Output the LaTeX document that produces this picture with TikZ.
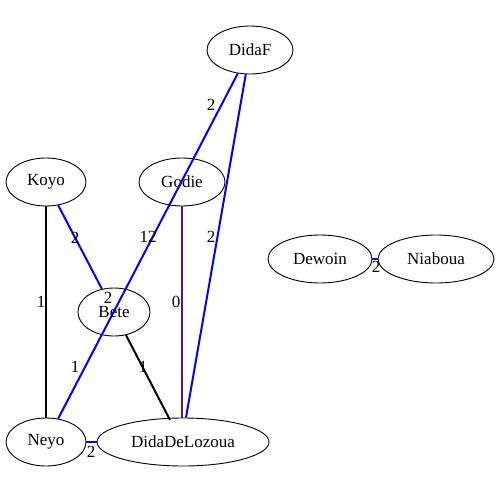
\documentclass[tikz,border=0pt]{standalone}
\usepackage{fontspec}
\setmainfont{Liberation Serif}
\usetikzlibrary{shapes.geometric}
\definecolor{edgeblue}{RGB}{0,0,255}
\definecolor{edgepurple}{RGB}{85,20,140}
\begin{document}
\begin{tikzpicture}[x=1pt,y=-1pt,
  gnode/.style={draw=black,ellipse,line width=0.9pt,inner sep=0pt,font=\fontsize{17}{17}\selectfont},
  elabel/.style={font=\fontsize{17}{17}\selectfont,inner sep=0pt},
  bl/.style={draw=edgeblue,line width=2pt},
  bk/.style={draw=black,line width=2pt},
  pu/.style={draw=edgepurple,line width=2pt}]
\useasboundingbox[fill=white] (0,0) rectangle (495,495);
\node[gnode,minimum width=86pt,minimum height=48pt] (DidaF) at (250,50) {DidaF};
\node[gnode,minimum width=80pt,minimum height=48pt] (Koyo) at (46,182) {Koyo};
\node[gnode,minimum width=86pt,minimum height=48pt] (Godie) at (182,182) {Godie};
\node[gnode,minimum width=72pt,minimum height=48pt] (Bete) at (114,312) {Bete};
\node[gnode,minimum width=80pt,minimum height=48pt] (Neyo) at (46,442) {Neyo};
\node[gnode,minimum width=172pt,minimum height=48pt] (DDL) at (183,442) {DidaDeLozoua};
\node[gnode,minimum width=104pt,minimum height=48pt] (Dewoin) at (320,259) {Dewoin};
\node[gnode,minimum width=116pt,minimum height=48pt] (Niaboua) at (436,259) {Niaboua};
\draw[bk] (Koyo) -- (Neyo);
\draw[bl] (Koyo) -- (Bete);
\draw[pu] (Godie.south) -- (Godie.south |- DDL.north);
\draw[bl] (DidaF) -- (DDL.north -| 186,0);
\draw[bl] (DidaF) -- (Neyo);
\draw[bk] (Bete) -- (170,420);
\draw[bl] (Neyo) -- (DDL);
\draw[bl] (Dewoin) -- (Niaboua);
\node[elabel] (l1) at (211,105) {2};
\node[elabel] (l2) at (75,238) {2};
\node[elabel] (l3) at (148,237) {12};
\node[elabel] (l4) at (211,237) {2};
\node[elabel] (l5) at (41,302) {1};
\node[elabel] (l6) at (108,298) {2};
\node[elabel] (l7) at (176,302) {0};
\node[elabel] (l8) at (75,367) {1};
\node[elabel] (l9) at (143,367) {1};
\node[elabel] (l10) at (91,452) {2};
\node[elabel] (l11) at (376,267) {2};
\end{tikzpicture}
\end{document}
